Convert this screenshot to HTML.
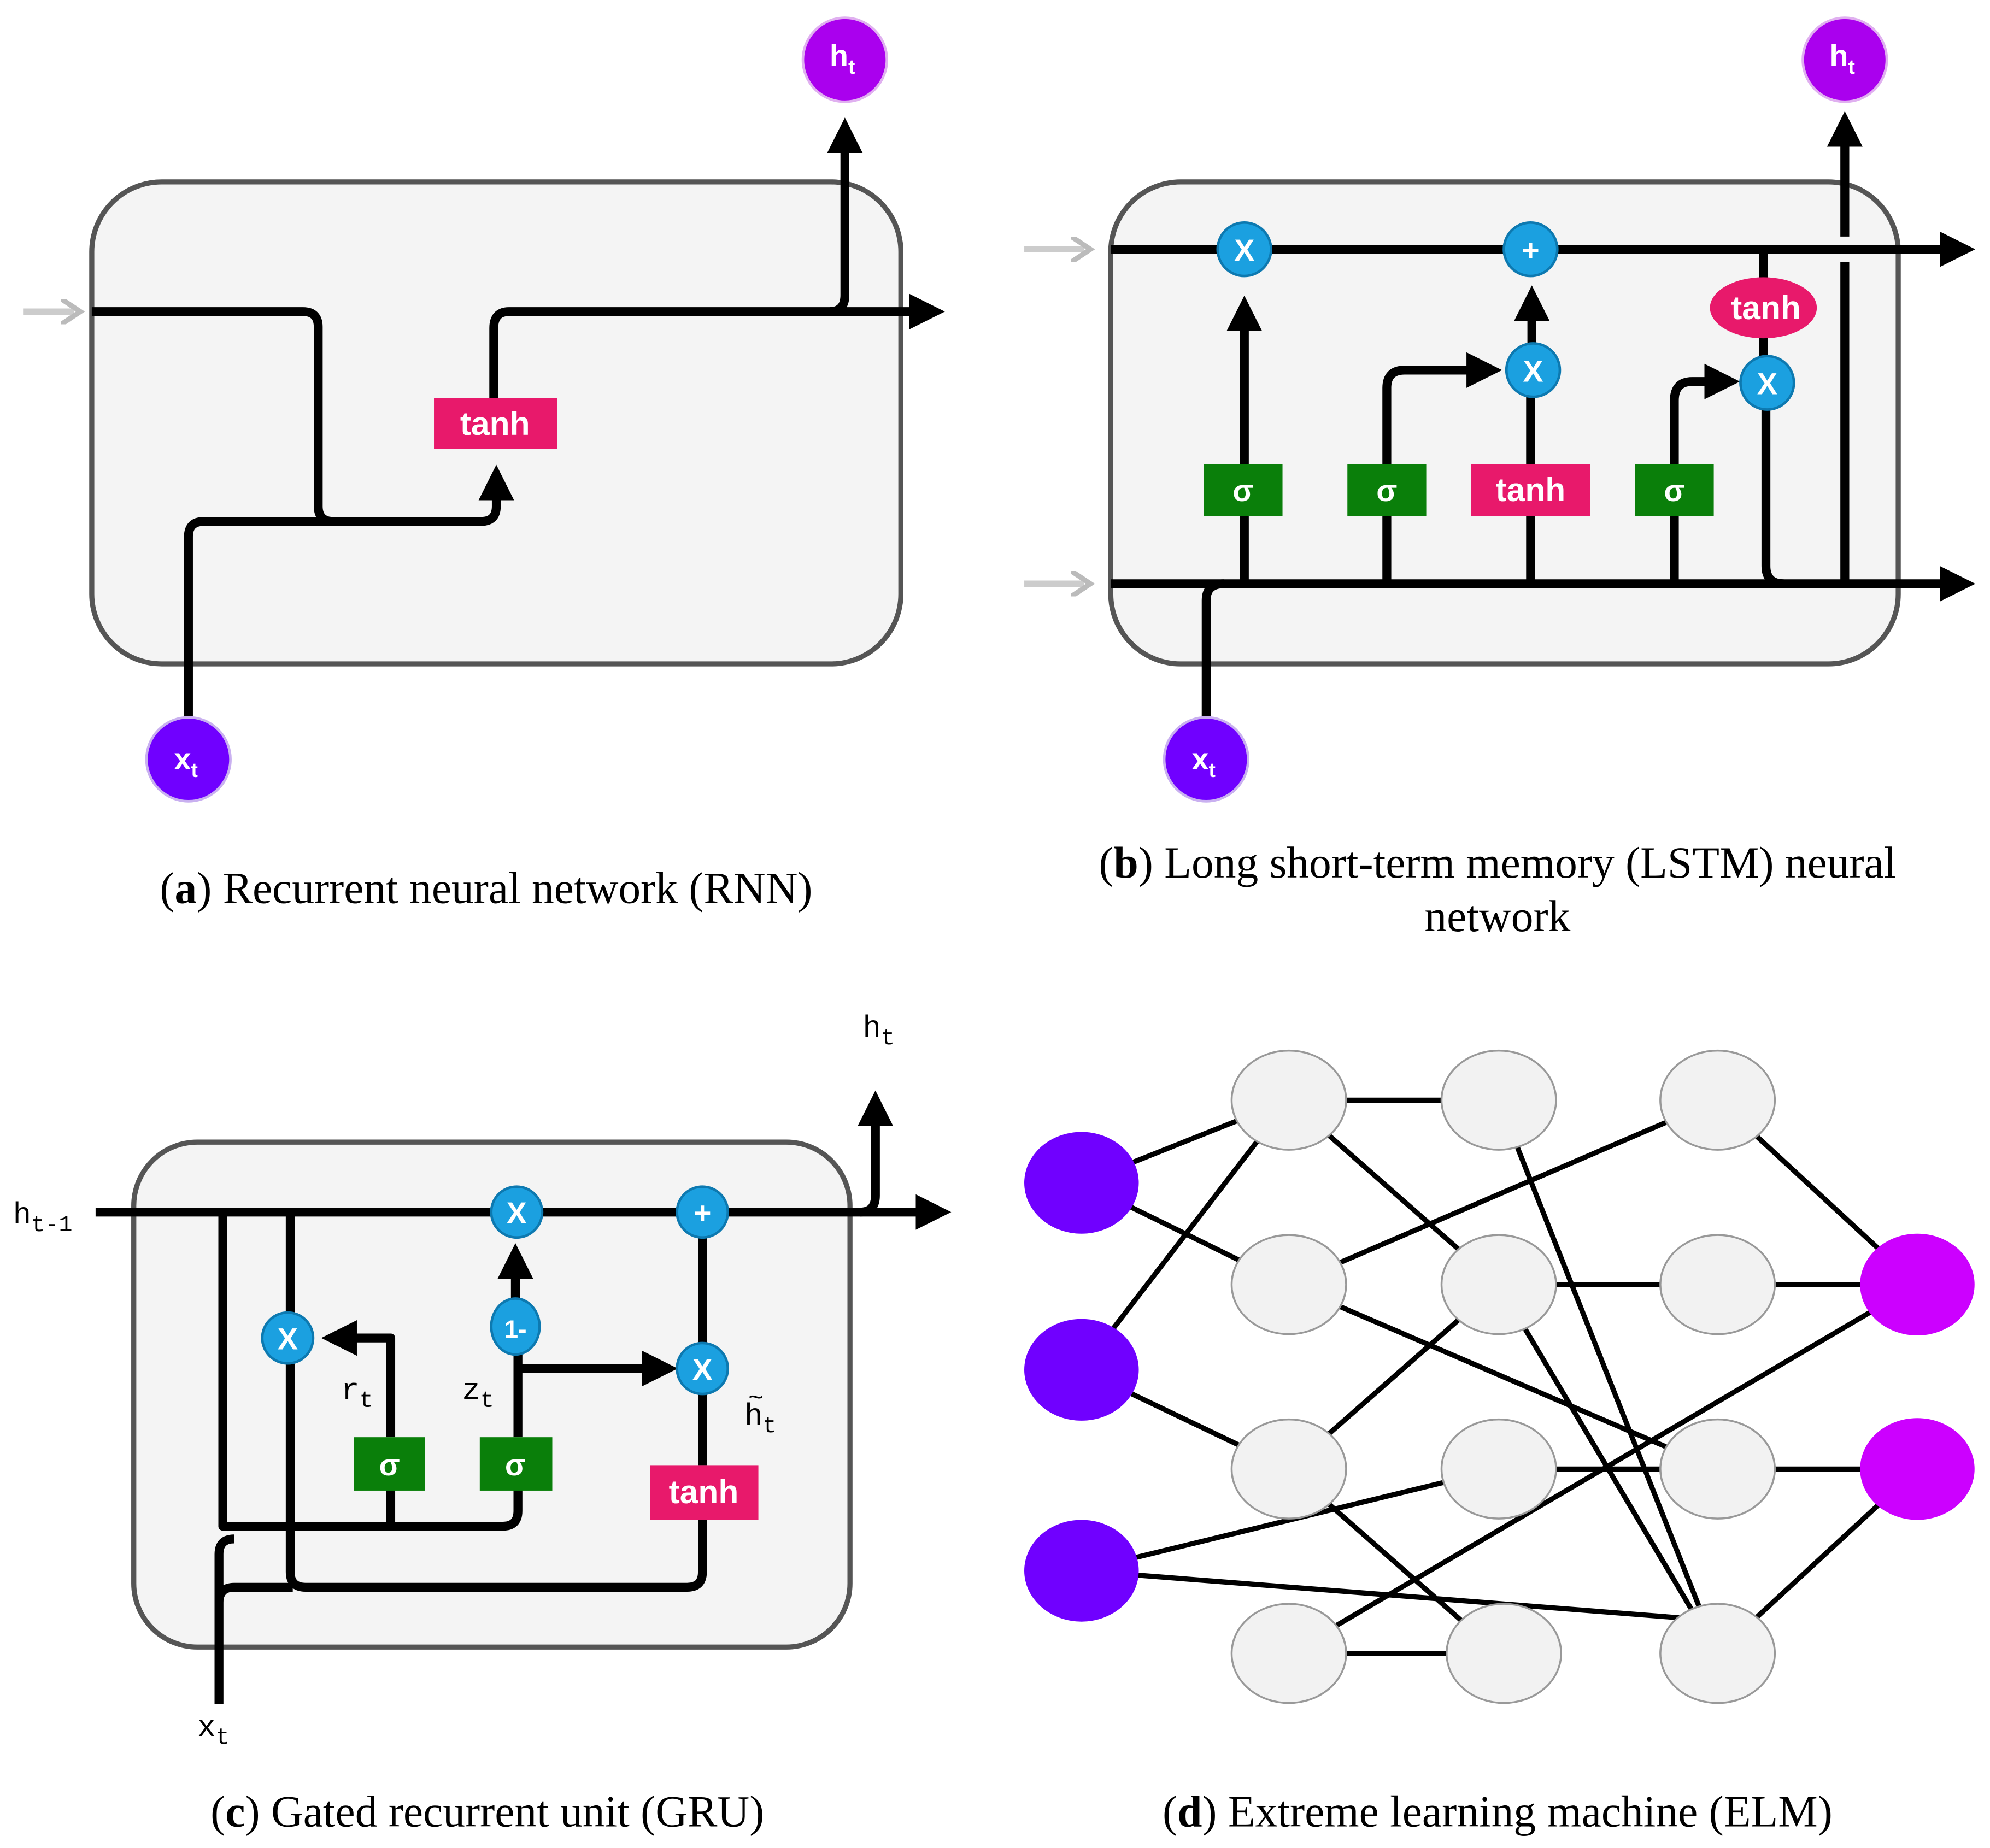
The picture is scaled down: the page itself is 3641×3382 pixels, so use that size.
<!DOCTYPE html>
<html><head><meta charset="utf-8"><style>html,body{margin:0;padding:0;background:#fff}svg{display:block}</style></head>
<body>
<svg width="3641" height="3382" viewBox="0 0 1564 1453" xmlns="http://www.w3.org/2000/svg" font-family="Liberation Sans, sans-serif">
<defs>
<marker id="ar" markerWidth="4" markerHeight="4" refX="2.2" refY="2" orient="auto" markerUnits="strokeWidth"><path d="M0,0 L4,2 L0,4 z" fill="#000"/></marker>
<marker id="ga" markerWidth="4" markerHeight="4" refX="2" refY="2" orient="auto" markerUnits="strokeWidth"><path d="M0,0 L3,2 L0,4" fill="none" stroke="#bbb" stroke-width="0.8"/></marker>
</defs>
<g fill="none" stroke="#000" stroke-width="7" stroke-linejoin="round">
<rect x="72" y="143" width="636" height="379" rx="55" fill="#f4f4f4" stroke="#555" stroke-width="4"/>
<line x1="18" y1="245" x2="58" y2="245" stroke="#ccc" stroke-width="5" marker-end="url(#ga)"/>
<path d="M72,245 H238 Q250,245 250,257 V398 Q250,410 262,410 H378 Q390,410 390,398 V378" marker-end="url(#ar)"/>
<path d="M148,565 V422 Q148,410 160,410 H262"/>
<path d="M388,313 V258 Q388,245 400,245 H730" marker-end="url(#ar)"/>
<path d="M652,245 Q664,245 664,232 V105" marker-end="url(#ar)"/>
<rect x="873" y="143" width="619" height="379" rx="55" fill="#f4f4f4" stroke="#555" stroke-width="4"/>
<line x1="805" y1="196" x2="852" y2="196" stroke="#ccc" stroke-width="5" marker-end="url(#ga)"/>
<line x1="805" y1="459" x2="852" y2="459" stroke="#ccc" stroke-width="5" marker-end="url(#ga)"/>
<path d="M873,196 H1540" marker-end="url(#ar)"/>
<path d="M873,459 H1540" marker-end="url(#ar)"/>
<path d="M978,459 V245" marker-end="url(#ar)"/>
<path d="M1090,459 V305 Q1090,291 1104,291 H1168" marker-end="url(#ar)"/>
<path d="M1203,459 V291"/>
<path d="M1204,270 V237" marker-end="url(#ar)"/>
<path d="M1316,459 V315 Q1316,300 1330,300 H1355" marker-end="url(#ar)"/>
<path d="M1386,196 V301 M1388,301 V445 Q1388,459 1402,459"/>
<path d="M948,565 V472 Q948,459 962,459"/>
<path d="M1450,459 V206 M1450,186 V100" marker-end="url(#ar)"/>
<rect x="105" y="898" width="563" height="397" rx="50" fill="#f4f4f4" stroke="#555" stroke-width="4"/>
<path d="M75,953 H735" marker-end="url(#ar)"/>
<path d="M676,953 Q688,953 688,940 V870" marker-end="url(#ar)"/>
<path d="M175,953 V1200 H395 Q407,1200 407,1188 V1150"/>
<path d="M307,1200 V1150 M307,1130 V1052 H265" marker-end="url(#ar)"/>
<path d="M228,953 V1236 Q228,1248 240,1248 H540 Q552,1248 552,1236 V1195"/>
<path d="M172,1340 V1222 Q172,1210 184,1210 M172,1260 Q172,1248 184,1248 H230"/>
<path d="M407,1130 V1043 M405,1025 V990" marker-end="url(#ar)"/>
<path d="M407,1076 H520" marker-end="url(#ar)"/>
<path d="M552,1152 V953"/>
<g stroke-width="4">
<path d="M850,930 L1013,865 M850,930 L1013,1010 M850,1077 L1013,865 M850,1077 L1013,1155 M850,1235 L1178,1155 M850,1235 L1320,1272
M1013,865 L1178,865 M1013,865 L1178,1010 M1013,1010 L1350,865 M1013,1010 L1350,1155 M1013,1155 L1178,1010 M1013,1155 L1178,1300
M1013,1300 L1178,1300 M1013,1300 L1507,1010 M1178,865 L1350,1300 M1178,1010 L1350,1010 M1178,1010 L1350,1300 M1178,1155 L1350,1155
M1350,865 L1507,1010 M1350,1010 L1507,1010 M1350,1155 L1507,1155 M1350,1300 L1507,1155"/>
</g>
</g>
<rect x="341" y="313" width="97" height="40" fill="#e8196b"/>
<text x="389" y="342" font-size="26" font-weight="bold" fill="#fff" text-anchor="middle">tanh</text>
<circle cx="148" cy="597" r="33" fill="#7000ff" stroke="#c9b0f0" stroke-width="2"/>
<text x="146" y="605" font-size="24" font-weight="bold" fill="#fff" text-anchor="middle">x<tspan font-size="16" dy="6">t</tspan></text>
<circle cx="664" cy="47" r="33" fill="#aa00ee" stroke="#e0b0f0" stroke-width="2"/>
<text x="662" y="52" font-size="24" font-weight="bold" fill="#fff" text-anchor="middle">h<tspan font-size="16" dy="6">t</tspan></text>
<g font-weight="bold" fill="#fff" text-anchor="middle">
<rect x="946" y="365" width="62" height="41" fill="#0a7f0a"/><text x="977" y="394" font-size="24">σ</text>
<rect x="1059" y="365" width="62" height="41" fill="#0a7f0a"/><text x="1090" y="394" font-size="24">σ</text>
<rect x="1156" y="365" width="94" height="41" fill="#e8196b"/><text x="1203" y="394" font-size="26">tanh</text>
<rect x="1285" y="365" width="62" height="41" fill="#0a7f0a"/><text x="1316" y="394" font-size="24">σ</text>
<ellipse cx="1386" cy="242" rx="42" ry="24" fill="#e8196b"/><text x="1388" y="251" font-size="26">tanh</text>
<g fill="#1ba0e0" stroke="#0d79b0" stroke-width="2">
<circle cx="978" cy="196" r="21"/><circle cx="1203" cy="196" r="21"/><circle cx="1205" cy="291" r="21"/><circle cx="1389" cy="301" r="21"/>
<circle cx="406" cy="953" r="20"/><circle cx="552" cy="953" r="20"/><circle cx="226" cy="1052" r="20"/><circle cx="552" cy="1076" r="20"/>
<ellipse cx="405" cy="1043" rx="19" ry="22"/>
</g>
<text x="978" y="205" font-size="24">X</text><text x="1203" y="205" font-size="24">+</text><text x="1205" y="300" font-size="24">X</text><text x="1389" y="310" font-size="24">X</text>
<circle cx="948" cy="597" r="33" fill="#7000ff" stroke="#c9b0f0" stroke-width="2"/>
<text x="946" y="605" font-size="24">x<tspan font-size="16" dy="6">t</tspan></text>
<circle cx="1450" cy="47" r="33" fill="#aa00ee" stroke="#e0b0f0" stroke-width="2"/>
<text x="1448" y="52" font-size="24">h<tspan font-size="16" dy="6">t</tspan></text>
<text x="406" y="962" font-size="24">X</text><text x="552" y="962" font-size="24">+</text><text x="226" y="1061" font-size="24">X</text><text x="552" y="1085" font-size="24">X</text><text x="405" y="1052" font-size="20">1-</text>
<rect x="278" y="1130" width="56" height="42" fill="#0a7f0a"/><text x="306" y="1160" font-size="24">σ</text>
<rect x="377" y="1130" width="57" height="42" fill="#0a7f0a"/><text x="405" y="1160" font-size="24">σ</text>
<rect x="511" y="1152" width="85" height="43" fill="#e8196b"/><text x="553" y="1182" font-size="26">tanh</text>
</g>
<g font-family="Liberation Mono, monospace" font-size="24" fill="#000">
<text x="10" y="962">h<tspan font-size="18" dy="6">t-1</tspan></text>
<text x="678" y="815">h<tspan font-size="18" dy="6">t</tspan></text>
<text x="268" y="1100">r<tspan font-size="18" dy="6">t</tspan></text>
<text x="363" y="1100">z<tspan font-size="18" dy="6">t</tspan></text>
<text x="585" y="1120">h<tspan font-size="18" dy="6">t</tspan></text><text x="588" y="1105" font-size="20">~</text>
<text x="155" y="1365">x<tspan font-size="18" dy="6">t</tspan></text>
</g>
<g stroke="#999" stroke-width="1.5" fill="#f2f2f2">
<ellipse cx="1013" cy="865" rx="45" ry="39"/><ellipse cx="1013" cy="1010" rx="45" ry="39"/><ellipse cx="1013" cy="1155" rx="45" ry="39"/><ellipse cx="1013" cy="1300" rx="45" ry="39"/>
<ellipse cx="1178" cy="865" rx="45" ry="39"/><ellipse cx="1178" cy="1010" rx="45" ry="39"/><ellipse cx="1178" cy="1155" rx="45" ry="39"/><ellipse cx="1182" cy="1300" rx="45" ry="39"/>
<ellipse cx="1350" cy="865" rx="45" ry="39"/><ellipse cx="1350" cy="1010" rx="45" ry="39"/><ellipse cx="1350" cy="1155" rx="45" ry="39"/><ellipse cx="1350" cy="1300" rx="45" ry="39"/>
</g>
<g fill="#7000ff"><ellipse cx="850" cy="930" rx="45" ry="40"/><ellipse cx="850" cy="1077" rx="45" ry="40"/><ellipse cx="850" cy="1235" rx="45" ry="40"/></g>
<g fill="#cc00ff"><ellipse cx="1507" cy="1010" rx="45" ry="40"/><ellipse cx="1507" cy="1155" rx="45" ry="40"/></g>
<g font-family="Liberation Serif, serif" font-size="35" fill="#000" text-anchor="middle">
<text x="382" y="710">(<tspan font-weight="bold">a</tspan>) Recurrent neural network (RNN)</text>
<text x="1177" y="690">(<tspan font-weight="bold">b</tspan>) Long short-term memory (LSTM) neural</text>
<text x="1177" y="732">network</text>
<text x="383" y="1436">(<tspan font-weight="bold">c</tspan>) Gated recurrent unit (GRU)</text>
<text x="1177" y="1436">(<tspan font-weight="bold">d</tspan>) Extreme learning machine (ELM)</text>
</g>
</svg>
</body></html>
